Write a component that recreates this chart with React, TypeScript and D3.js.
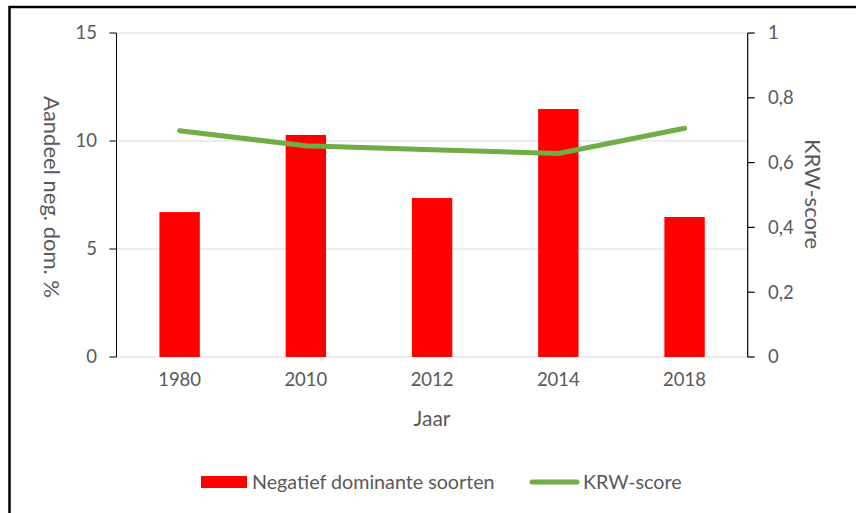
import React from "react";
import * as d3 from "d3";

const categories = ["1980", "2010", "2012", "2014", "2018"];
const barValues = [6.71, 10.28, 7.36, 11.48, 6.48];
const lineValues = [0.698, 0.652, 0.64, 0.628, 0.706];
const leftTicks = [0, 5, 10, 15];
const rightTicks = [0, 0.2, 0.4, 0.6, 0.8, 1];

const W = 856;
const H = 513;
const FONT = "Lato, 'Open Sans', sans-serif";
const TXT = "#595959";

export default function App() {
  const left = 116.5;
  const right = 747.7;
  const top = 33;
  const bottom = 357;
  const x = d3.scaleBand<string>().domain(categories).range([left, right]).paddingInner(0.68).paddingOuter(0.34);
  const yL = d3.scaleLinear().domain([0, 15]).range([bottom, top]);
  const yR = d3.scaleLinear().domain([0, 1]).range([bottom, top]);
  const xc = (c: string) => (x(c) as number) + x.bandwidth() / 2;
  const line = d3
    .line<number>()
    .x((_, i) => xc(categories[i]))
    .y((d) => yR(d));
  const fmt = (v: number) => (v === 0 || v === 1 ? String(v) : v.toFixed(1).replace(".", ","));

  return (
    <svg width={W} height={H} style={{ position: "absolute", left: 0, top: 0, display: "block" }}>
      <rect x={0} y={0} width={W} height={H} fill="#fff" />
      <rect x={9.5} y={7} width={W + 20} height={H + 20} fill="none" stroke="#000" strokeWidth={2.5} />
      {leftTicks.map((t) => (
        <line key={"g" + t} x1={left} x2={right} y1={yL(t)} y2={yL(t)} stroke="#D9D9D9" strokeWidth={1.2} />
      ))}
      {categories.map((c, i) => (
        <rect key={c} x={x(c)} y={yL(barValues[i])} width={x.bandwidth()} height={bottom - yL(barValues[i])} fill="#FF0000" />
      ))}
      <path d={line(lineValues) || ""} fill="none" stroke="#70AD47" strokeWidth={5} strokeLinecap="round" strokeLinejoin="round" />
      {/* left axis */}
      <line x1={left} x2={left} y1={top} y2={bottom} stroke="#000" strokeWidth={1} />
      {leftTicks.map((t) => (
        <g key={"l" + t}>
          <line x1={left - 7} x2={left} y1={yL(t)} y2={yL(t)} stroke="#000" strokeWidth={1} />
          <text x={97} y={yL(t)} dy="0.35em" textAnchor="end" fill={TXT} fontFamily={FONT} fontSize={18.5}>
            {t}
          </text>
        </g>
      ))}
      {/* right axis */}
      <line x1={right} x2={right} y1={top} y2={bottom} stroke="#000" strokeWidth={1.2} />
      {rightTicks.map((t) => (
        <g key={"r" + t}>
          <line x1={right} x2={right + 7} y1={yR(t)} y2={yR(t)} stroke="#000" strokeWidth={1.2} />
          <text x={768} y={yR(t)} dy="0.35em" textAnchor="start" fill={TXT} fontFamily={FONT} fontSize={18.5}>
            {fmt(t)}
          </text>
        </g>
      ))}
      {categories.map((c) => (
        <text key={"x" + c} x={xc(c)} y={386} textAnchor="middle" fill={TXT} fontFamily={FONT} fontSize={18.5}>
          {c}
        </text>
      ))}
      <text x={432} y={426} textAnchor="middle" fill={TXT} fontFamily={FONT} fontSize={21}>
        Jaar
      </text>
      <text transform="translate(44,197) rotate(90)" textAnchor="middle" fill={TXT} fontFamily={FONT} fontSize={22}>
        Aandeel neg. dom. %
      </text>
      <text transform="translate(805,194) rotate(90)" textAnchor="middle" fill={TXT} fontFamily={FONT} fontSize={22}>
        KRW-score
      </text>
      {/* legend */}
      <rect x={201} y={476} width={46} height={12} fill="#FF0000" />
      <text x={252} y={482} dy="0.35em" fill={TXT} fontFamily={FONT} fontSize={19.7}>
        Negatief dominante soorten
      </text>
      <line x1={532} x2={577} y1={482} y2={482} stroke="#70AD47" strokeWidth={5} strokeLinecap="round" />
      <text x={583} y={482} dy="0.35em" fill={TXT} fontFamily={FONT} fontSize={19.7}>
        KRW-score
      </text>
    </svg>
  );
}
